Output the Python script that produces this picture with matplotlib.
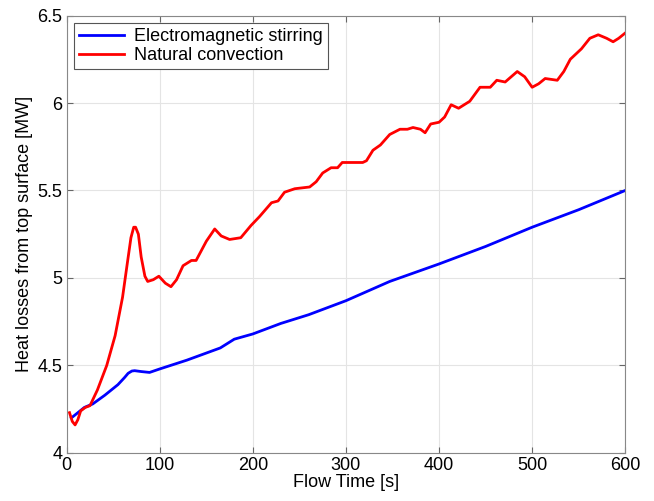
import numpy as np
import matplotlib.pyplot as plt

plt.rcParams['font.family'] = ['Liberation Sans', 'DejaVu Sans']

# natural convection (red)
nc_t = [3, 6, 9, 12, 15, 20, 25, 33, 43, 52, 60, 65, 69, 72, 74, 77, 80, 84, 87, 93,
        99, 106, 112, 118, 125, 134, 139, 150, 159, 166, 175, 187, 198, 207, 220, 227,
        234, 245, 261, 268, 275, 284, 291, 296, 318, 322, 329, 337, 347, 358, 366,
        372, 380, 385, 391, 400, 406, 413, 421, 433, 444, 455, 462, 471, 484, 492,
        500, 507, 514, 527, 534, 541, 553, 562, 571, 580, 587, 593, 600]
nc_q = [4.23, 4.18, 4.16, 4.19, 4.24, 4.26, 4.27, 4.36, 4.50, 4.67, 4.89, 5.08, 5.23,
        5.29, 5.29, 5.25, 5.12, 5.01, 4.98, 4.99, 5.01, 4.97, 4.95, 4.99, 5.07, 5.10,
        5.10, 5.21, 5.28, 5.24, 5.22, 5.23, 5.30, 5.35, 5.43, 5.44, 5.49, 5.51, 5.52,
        5.55, 5.60, 5.63, 5.63, 5.66, 5.66, 5.67, 5.73, 5.76, 5.82, 5.85, 5.85, 5.86,
        5.85, 5.83, 5.88, 5.89, 5.92, 5.99, 5.97, 6.01, 6.09, 6.09, 6.13, 6.12, 6.18,
        6.15, 6.09, 6.11, 6.14, 6.13, 6.18, 6.25, 6.31, 6.37, 6.39, 6.37, 6.35, 6.37,
        6.40]

# electromagnetic stirring (blue)
ems_t = [5, 12, 19, 28, 41, 55, 62, 66, 70, 73, 80, 89, 100, 129, 165, 180, 200, 230,
         260, 300, 347, 400, 450, 500, 550, 600]
ems_q = [4.20, 4.23, 4.26, 4.28, 4.33, 4.39, 4.43, 4.455, 4.468, 4.47, 4.465, 4.46,
         4.48, 4.53, 4.60, 4.65, 4.68, 4.74, 4.79, 4.87, 4.98, 5.08, 5.18, 5.29, 5.39,
         5.50]

fig = plt.figure(figsize=(6.54, 5.01), dpi=100)
ax = fig.add_axes([0.102, 0.096, 0.854, 0.873])

ax.plot(ems_t, ems_q, color='#0000ff', lw=2, solid_joinstyle='round',
        label='Electromagnetic stirring')
ax.plot(nc_t, nc_q, color='#ff0000', lw=2, solid_joinstyle='round',
        label='Natural convection')

ax.set_xlim(0, 600)
ax.set_ylim(4, 6.5)
ax.set_xticks(np.arange(0, 601, 100))
ax.set_yticks([4, 4.5, 5, 5.5, 6, 6.5])
ax.set_yticklabels(['4', '4.5', '5', '5.5', '6', '6.5'])
ax.grid(True, color='#e4e4e4', lw=0.8)
ax.set_axisbelow(True)
ax.tick_params(direction='in', top=True, right=True, labelsize=13, length=4,
               color='#666666', pad=3)
for s in ax.spines.values():
    s.set_color('#888888')

ax.set_xlabel('Flow Time [s]', fontsize=13, labelpad=0)
ax.set_ylabel('Heat losses from top surface [MW]', fontsize=13, labelpad=3)

leg = ax.legend(loc='upper left', fontsize=13, fancybox=False, framealpha=1,
                edgecolor='#555555', handlelength=2.5, borderpad=0.3,
                labelspacing=0.1, borderaxespad=0.4, handletextpad=0.5)
leg.get_frame().set_linewidth(0.8)

fig.savefig('out.png', dpi=100)
